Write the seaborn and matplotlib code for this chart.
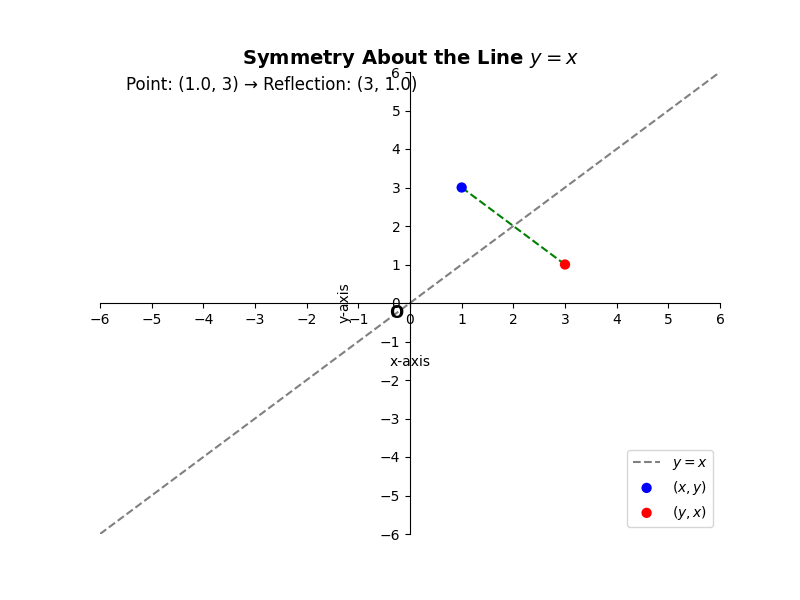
import matplotlib
matplotlib.use("Agg")
import matplotlib.pyplot as plt
import seaborn as sns
import numpy as np

line_x = [-6, 6]
line_y = [-6, 6]
px, py = [1.0], [3]
rx, ry = [3], [1.0]

fig, ax = plt.subplots(figsize=(8, 6), dpi=100)
sns.lineplot(x=line_x, y=line_y, ax=ax, color='gray', linestyle='--', label='$y = x$')
sns.lineplot(x=[px[0], rx[0]], y=[py[0], ry[0]], ax=ax, color='green', linestyle='--')
sns.scatterplot(x=px, y=py, ax=ax, color='blue', s=55, edgecolor='none', label='$(x, y)$', zorder=5)
sns.scatterplot(x=rx, y=ry, ax=ax, color='red', s=55, edgecolor='none', label='$(y, x)$', zorder=5)

ax.set_xlim(-6, 6)
ax.set_ylim(-6, 6)
ax.spines['left'].set_position('zero')
ax.spines['bottom'].set_position('zero')
ax.spines['right'].set_visible(False)
ax.spines['top'].set_visible(False)
ax.set_xticks(np.arange(-6, 7, 1))
ax.set_yticks(np.arange(-6, 7, 1))
ax.set_xlabel('x-axis', labelpad=20)
ax.set_ylabel('y-axis', labelpad=20)
ax.text(-0.4, -0.4, 'O', fontsize=12, fontweight='bold')
ax.set_title('Symmetry About the Line $y = x$', fontsize=14, fontweight='bold')
ax.text(0.042, 0.96, 'Point: (1.0, 3) → Reflection: (3, 1.0)', transform=ax.transAxes, fontsize=12)
ax.legend(loc='lower right')
fig.savefig('out.png')
